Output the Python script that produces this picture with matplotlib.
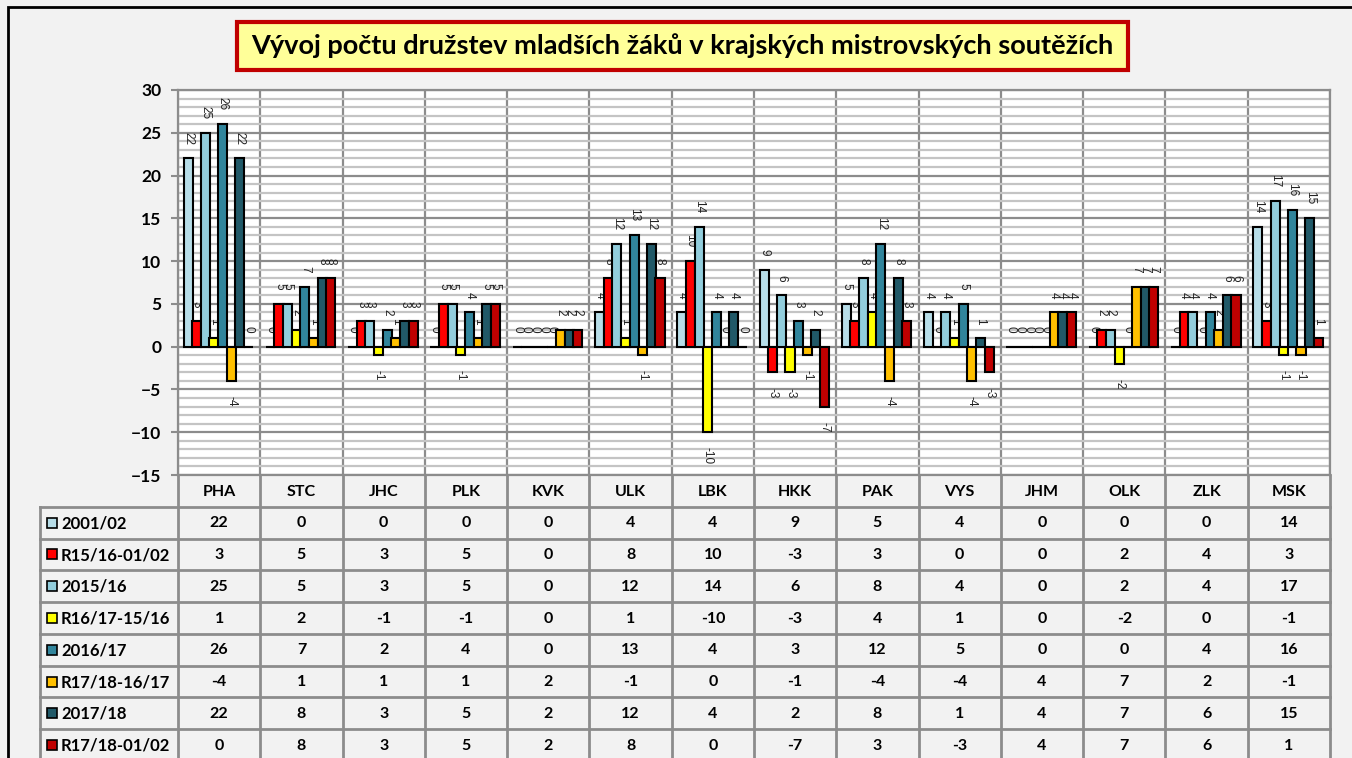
import numpy as np
import matplotlib.pyplot as plt
from matplotlib.patches import Rectangle

regions = ["PHA", "STC", "JHC", "PLK", "KVK", "ULK", "LBK",
           "HKK", "PAK", "VYS", "JHM", "OLK", "ZLK", "MSK"]
series_names = ["2001/02", "R15/16-01/02", "2015/16", "R16/17-15/16",
                "2016/17", "R17/18-16/17", "2017/18", "R17/18-01/02"]
s2001 = [22, 0, 0, 0, 0, 4, 4, 9, 5, 4, 0, 0, 0, 14]
r15_01 = [3, 5, 3, 5, 0, 8, 10, -3, 3, 0, 0, 2, 4, 3]
s2015 = [25, 5, 3, 5, 0, 12, 14, 6, 8, 4, 0, 2, 4, 17]
r16_15 = [1, 2, -1, -1, 0, 1, -10, -3, 4, 1, 0, -2, 0, -1]
s2016 = [26, 7, 2, 4, 0, 13, 4, 3, 12, 5, 0, 0, 4, 16]
r17_16 = [-4, 1, 1, 1, 2, -1, 0, -1, -4, -4, 4, 7, 2, -1]
s2017 = [22, 8, 3, 5, 2, 12, 4, 2, 8, 1, 4, 7, 6, 15]
r17_01 = [0, 8, 3, 5, 2, 8, 0, -7, 3, -3, 4, 7, 6, 1]
series = [s2001, r15_01, s2015, r16_15, s2016, r17_16, s2017, r17_01]
colors = ["#b7dde8", "#ff0000", "#92cddc", "#ffff00",
          "#31859c", "#ffc000", "#215968", "#c00000"]
title = "Vývoj počtu družstev mladších žáků v krajských mistrovských soutěžích"

W, H = 1352, 758
BOLD = "Lato"
fig = plt.figure(figsize=(W / 100, H / 100), dpi=100, facecolor="#f2f2f2")

# outer chart frame
fig.patches.append(Rectangle((8 / W, -0.05), 1.1, 1 - 7 / H + 0.05, transform=fig.transFigure,
                             facecolor="none", edgecolor="black", lw=2))

# plot area
pl, pr, pt, pb = 178, 1330, 90, 475
ax = fig.add_axes([pl / W, 1 - pb / H, (pr - pl) / W, (pb - pt) / H])
ax.set_facecolor("white")
n = len(regions)
ax.set_xlim(0, n)
ax.set_ylim(-15, 30)
ax.set_yticks(range(-15, 31, 5))
ax.set_yticks(range(-15, 31, 1), minor=True)
ax.set_xticks(range(0, n + 1))
ax.set_xticklabels([])
ax.tick_params(axis="x", length=0)
ax.tick_params(axis="y", which="major", length=5, width=1.5, color="#8c8c8c", pad=7,
               labelsize=12.5)
ax.tick_params(axis="y", which="minor", length=0)
for lab in ax.get_yticklabels():
    lab.set_fontfamily(BOLD)
    lab.set_fontweight("bold")
ax.grid(which="minor", axis="y", color="#c4c4c4", lw=1.6)
ax.grid(which="major", axis="y", color="#8c8c8c", lw=1.6)
ax.grid(which="major", axis="x", color="#8c8c8c", lw=1.6)
ax.set_axisbelow(True)
for sp in ax.spines.values():
    sp.set_color("#8c8c8c")
    sp.set_linewidth(1.6)

x = np.arange(n)
step, w, x0 = 0.105, 0.11, 0.07
for j, (vals, col) in enumerate(zip(series, colors)):
    xs = x + x0 + j * step + step / 2
    ax.bar(xs, vals, width=w, color=col, edgecolor="black", linewidth=1.5, zorder=3)
    for xi, v in zip(xs, vals):
        if v >= 0:
            ax.annotate(str(v), (xi, v), xytext=(0, 10), textcoords="offset points",
                        rotation=-90, ha="center", va="bottom", fontsize=8.5,
                        family="Liberation Sans", color="#222222", zorder=2.5)
        else:
            ax.annotate(str(v), (xi, v), xytext=(0, -11), textcoords="offset points",
                        rotation=-90, ha="center", va="top", fontsize=8.5,
                        family="Liberation Sans", color="#222222", zorder=2.5)

# data table
tl, tb = 40, 761
cw = (pr - pl) / n
lab_w = (pl - tl) / cw
axt = fig.add_axes([tl / W, 1 - tb / H, (pr - tl) / W, (tb - pb) / H])
axt.set_xlim(-lab_w, n)
axt.set_ylim(len(series) + 1, 0)
axt.axis("off")
gc, glw = "#8c8c8c", 2
nrows = len(series) + 1
for k in range(1, nrows + 1):
    axt.plot([-lab_w, n], [k, k], color=gc, lw=glw, clip_on=False)
for i in range(n + 1):
    axt.plot([i, i], [0, nrows], color=gc, lw=glw, clip_on=False)
axt.plot([-lab_w, -lab_w], [1, nrows], color=gc, lw=glw, clip_on=False)

for i, r in enumerate(regions):
    axt.text(i + 0.5, 0.52, r, ha="center", va="center", fontsize=11.5,
             family=BOLD, fontweight="bold")
for k, (name, vals, col) in enumerate(zip(series_names, series, colors)):
    yk = k + 1.52
    axt.plot(-lab_w + 12.5 / cw, yk - 0.02, marker="s", markersize=7.5, mfc=col,
             mec="black", mew=1.2, clip_on=False)
    axt.text(-lab_w + 21 / cw, yk, name, ha="left", va="center", fontsize=12,
             family=BOLD, fontweight="bold")
    for i, v in enumerate(vals):
        axt.text(i + 0.5, yk, str(v), ha="center", va="center", fontsize=11.5,
                 family=BOLD, fontweight="bold")

# title box
fig.patches.append(Rectangle((237 / W, 1 - 70 / H), (1128 - 237) / W, 48 / H,
                             transform=fig.transFigure, facecolor="#ffff99",
                             edgecolor="#c00000", lw=3))
fig.text((237 + 1128) / 2 / W, 1 - 46 / H, title, ha="center", va="center",
         fontsize=19.5, family=BOLD, fontweight="bold")

fig.savefig("out.png", dpi=100, facecolor=fig.get_facecolor())
